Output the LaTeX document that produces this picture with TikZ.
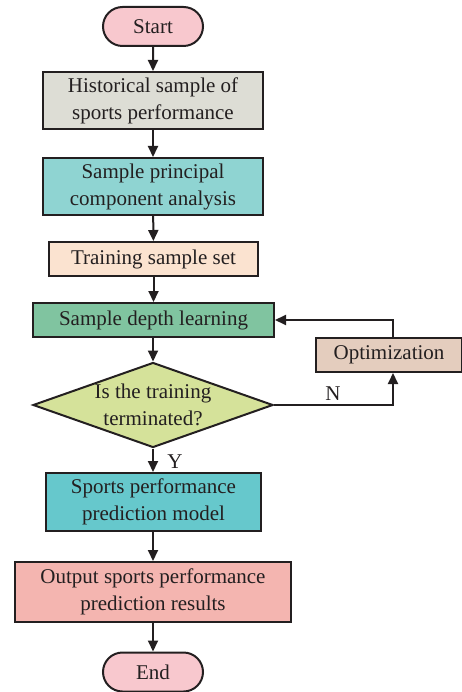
\documentclass[tikz,border=0pt]{standalone}
\usepackage{fontspec}
\setmainfont{Liberation Serif}
\usetikzlibrary{shapes.geometric,shapes.misc,arrows.meta}
\definecolor{cstart}{HTML}{F8C8CE}
\definecolor{chist}{HTML}{DDDDD5}
\definecolor{cpca}{HTML}{8FD4D2}
\definecolor{ctrain}{HTML}{FBE3D0}
\definecolor{cdepth}{HTML}{80C4A0}
\definecolor{copt}{HTML}{E4CDBE}
\definecolor{cdia}{HTML}{D5E29A}
\definecolor{cmodel}{HTML}{66C8CC}
\definecolor{cout}{HTML}{F4B5B0}
\definecolor{cline}{HTML}{231F20}
\begin{document}
\begin{tikzpicture}[x=1pt,y=-1pt,
  every node/.style={font=\fontsize{21}{27}\selectfont, text=cline},
  box/.style={draw=cline, line width=2pt, rectangle, align=center, inner sep=0pt},
  term/.style={draw=cline, line width=2pt, rounded rectangle, minimum width=100pt, minimum height=39pt, fill=cstart, inner sep=0pt},
  conn/.style={draw=cline, line width=2pt, -{Triangle[length=11pt,width=10pt]}}]
\useasboundingbox (0,0) rectangle (462,692);
\node[term] (start) at (153,26.5) {Start};
\node[box, fill=chist, minimum width=220pt, minimum height=57pt] (hist) at (153,100.5) {Historical sample of\\sports performance};
\node[box, fill=cpca, minimum width=220pt, minimum height=57pt] (pca) at (153,186.5) {Sample principal\\component analysis};
\node[box, fill=ctrain, minimum width=209pt, minimum height=34pt] (train) at (153.5,259) {Training sample set};
\node[box, fill=cdepth, minimum width=241pt, minimum height=34pt] (depth) at (153.5,320) {Sample depth learning};
\node[box, fill=copt, minimum width=146pt, minimum height=34pt] (opt) at (389,355) {Optimization};
\node[draw=cline, line width=2pt, diamond, aspect=2.86, fill=cdia, minimum width=240pt, minimum height=85pt, inner sep=0pt, align=center] (dia) at (153,405) {};
\node[align=center] (diatext) at (153,405) {Is the training\\terminated?};
\node[box, fill=cmodel, minimum width=215pt, minimum height=58pt] (model) at (153.5,502) {Sports performance\\prediction model};
\node[box, fill=cout, minimum width=276pt, minimum height=60pt] (out) at (153,592) {Output sports performance\\prediction results};
\node[term] (end) at (153,672) {End};
\coordinate (nc) at (393,405);
\coordinate (oc) at (393,320);
\draw[conn] (start) -- (hist);
\draw[conn] (hist) -- (pca);
\draw[conn] (pca) -- (train);
\draw[conn] (train) -- (depth);
\draw[conn] (depth.south -| dia.north) -- (dia.north);
\draw[conn] (dia.east) -- (nc) -- (opt.south -| nc);
\draw[conn] (opt.north -| oc) -- (oc) -- (depth.east);
\draw[conn] (dia.south) -- (model.north -| dia.south);
\draw[conn] (model.south -| out.north) -- (out.north);
\draw[conn] (out) -- (end);
\node (nlab) at (333,394) {N};
\node (ylab) at (175,462) {Y};
\end{tikzpicture}
\end{document}
